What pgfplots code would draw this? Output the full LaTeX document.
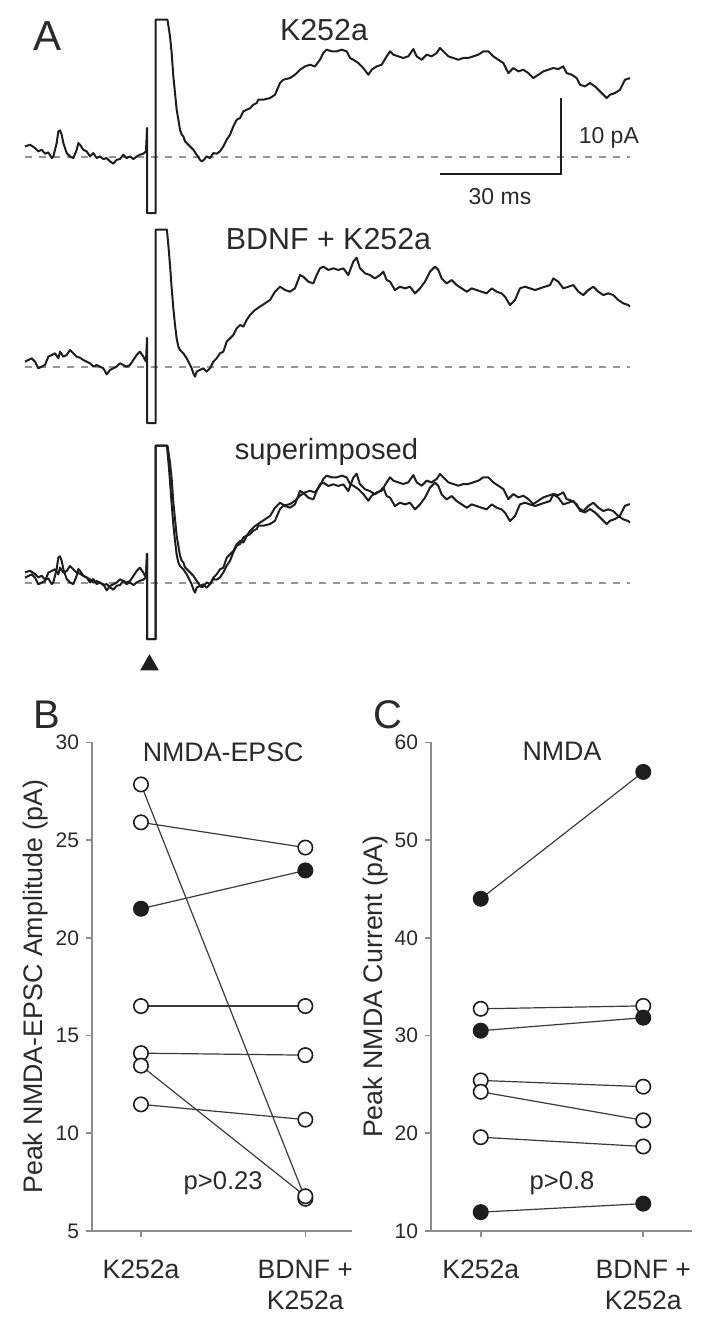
\documentclass[border=0pt]{standalone}
\usepackage{fontspec}
\setmainfont{Liberation Sans}
\usepackage{pgfplots}
\usepackage{pgfplotstable}
\pgfplotsset{compat=1.18}

\definecolor{trace}{HTML}{1E1E1E}
\definecolor{txt}{HTML}{2A2A2A}
\definecolor{axisgray}{HTML}{8C8C8C}
\definecolor{basegray}{HTML}{959595}
\definecolor{linkgray}{HTML}{3A3A3A}

% K252a trace: time (ms, 0 = stimulus), current (pA)
\pgfplotstableread{
t i
-30.35 1.36
-29.10 1.58
-27.86 1.15
-27.03 0.70
-26.20 0.92
-25.37 0.40
-24.54 0.57
-23.71 -0.18
-23.30 0.04
-22.47 1.81
-22.05 3.35
-21.64 3.48
-21.23 2.91
-20.81 1.81
-19.98 0.48
-19.15 0.04
-18.32 -0.18
-17.49 0.92
-17.08 1.81
-16.66 1.58
-15.84 0.92
-15.01 0.70
-14.18 0.04
-13.35 0.48
-12.52 -0.18
-11.69 0.04
-10.86 -0.31
-10.03 -0.18
-9.20 -0.62
-8.37 -0.92
-7.54 -0.40
-6.71 -0.31
-5.89 0.26
-5.06 -0.18
-4.23 0.04
-3.40 -0.31
-2.57 0.04
-1.74 0.26
-0.91 0.40
-0.25 0.70
0 3.80
0 -7.45
2.16 -7.45
2.16 18.10
5.10 18.10
5.72 15.89
6.14 13.70
6.55 10.61
6.97 8.41
7.38 6.21
7.80 4.89
8.21 3.57
8.63 2.91
9.04 2.69
9.45 2.03
9.87 1.81
10.70 1.36
11.53 0.92
12.36 0.26
13.19 -0.40
13.60 -0.62
14.02 -0.48
14.84 0.04
15.67 -0.18
16.50 0.48
17.33 0.40
18.16 0.70
18.99 1.36
19.82 2.25
20.65 2.91
21.48 4.01
22.31 4.89
23.14 5.11
23.97 5.99
24.80 6.21
25.62 6.40
26.45 6.87
27.28 7.09
27.70 7.53
28.94 7.53
30.60 7.75
31.84 8.19
33.08 9.73
33.91 10.17
35.57 10.39
36.81 10.83
38.06 11.49
39.30 11.93
40.55 12.15
41.79 11.93
43.03 12.81
43.86 13.70
44.69 14.14
45.94 13.92
47.18 13.92
48.42 14.14
49.67 13.92
50.50 13.04
51.32 12.81
52.57 12.37
53.81 11.71
55.06 10.83
55.89 11.49
57.13 11.93
58.38 12.15
59.62 13.26
60.45 13.92
61.28 13.48
62.52 13.26
63.76 13.04
65.01 13.26
66.25 14.22
67.08 13.26
68.32 12.81
69.57 13.48
70.81 13.26
72.06 13.70
72.88 14.36
73.71 13.92
74.96 13.26
76.20 13.04
77.44 12.81
78.69 13.04
79.93 13.04
81.18 13.26
82.42 13.48
83.66 13.92
84.91 13.92
86.15 13.26
87.40 12.81
88.64 12.37
89.88 11.05
91.13 11.71
92.37 11.27
93.61 11.49
94.86 11.05
96.10 10.39
97.35 10.83
98.59 11.27
99.83 11.49
101.08 11.71
102.32 11.58
103.56 11.93
104.39 11.05
105.64 10.83
106.88 10.39
107.71 9.51
108.95 9.29
110.20 9.73
111.44 9.29
112.27 8.85
113.51 8.19
114.34 7.75
115.17 8.19
116.42 8.41
117.66 8.85
118.90 10.17
120.15 10.39
}\traceK

% BDNF + K252a trace
\pgfplotstableread{
t i
-30.35 0.67
-29.52 0.89
-28.69 1.11
-27.86 0.67
-27.03 -0.21
-26.20 0.01
-25.37 0.23
-24.54 1.33
-23.71 1.55
-22.88 1.77
-22.05 1.11
-21.64 1.99
-20.81 1.33
-19.98 1.55
-19.15 2.21
-18.32 1.77
-17.49 1.33
-16.66 1.19
-15.84 0.89
-15.01 0.67
-14.18 0.45
-13.35 0.01
-12.52 0.23
-11.69 0.01
-10.86 -0.21
-10.03 -1.01
-9.20 -0.43
-8.37 -0.21
-7.54 0.01
-6.71 0.45
-5.89 0.23
-5.06 0.01
-4.23 0.23
-3.40 0.89
-2.57 1.55
-1.74 1.99
-0.91 1.33
-0.25 0.67
0 3.80
0 -7.45
2.16 -7.45
2.16 18.10
4.95 18.10
5.31 16.08
5.72 13.44
6.14 10.35
6.55 7.71
6.97 5.51
7.38 3.75
7.80 2.65
8.21 2.21
9.04 1.77
9.87 1.11
10.28 0.67
10.70 0.23
11.11 -0.21
11.53 -0.87
11.94 -1.31
12.36 -0.65
13.19 -0.43
14.02 -0.21
14.84 -0.65
15.67 -0.21
16.50 0.67
17.33 1.11
18.16 1.77
18.99 1.99
19.82 3.31
20.65 3.75
21.48 4.19
22.31 5.07
23.14 5.51
23.97 5.29
24.80 6.17
25.62 6.83
26.86 7.49
28.11 7.93
29.35 8.37
30.60 8.81
31.84 9.91
33.08 10.57
34.33 10.13
35.57 9.91
36.81 10.35
38.06 12.11
38.89 11.89
40.13 11.23
41.38 11.01
42.20 12.11
43.03 13.00
43.86 13.22
45.11 12.78
46.35 13.00
47.59 12.78
48.84 13.00
50.08 12.11
51.32 13.88
52.15 14.40
52.98 13.00
54.23 12.34
55.47 12.11
56.71 11.67
57.96 12.11
58.79 12.56
59.62 11.45
60.45 11.23
61.69 10.13
62.93 10.57
64.18 10.35
65.42 10.57
66.66 9.69
67.91 10.35
69.15 11.23
70.40 12.56
71.64 13.22
72.47 12.78
73.30 11.67
74.54 11.01
75.79 11.45
77.03 10.79
78.27 10.35
79.52 9.91
80.76 10.35
82.00 10.13
83.25 9.91
84.49 9.69
85.74 10.35
86.98 9.91
88.22 9.69
89.05 9.25
90.30 8.15
91.54 8.81
92.78 10.35
94.03 10.57
95.27 10.35
96.52 10.13
97.76 10.35
99.00 10.57
100.25 10.79
101.08 11.67
102.32 11.23
103.56 10.35
104.81 10.57
106.05 10.79
107.30 9.91
108.54 9.47
109.78 10.13
111.03 10.57
112.27 9.91
113.51 9.47
114.76 9.69
116.00 9.47
117.25 8.81
118.49 8.37
119.73 8.15
120.15 7.93
}\traceBK

\pgfplotsset{
  tracepanel/.style={hide axis, clip=false, anchor=south west,
    x=2.01pt, y=3.785pt, xmin=-32, xmax=122, ymin=-9, ymax=20},
  tr/.style={trace, line width=1pt, line join=round, no marks},
  baseline/.style={basegray, line width=0.85pt, dash pattern=on 3.3pt off 3.7pt, no marks},
  pairpanel/.style={scale only axis, clip=false, anchor=south west, height=244.3pt,
    axis x line=bottom, axis y line=left,
    axis line style={axisgray, line width=1pt, -},
    tick align=outside, major tick length=3pt,
    tick style={axisgray, line width=0.8pt},
    xtick={0,1}, xticklabels={K252a,{BDNF +\\K252a}},
    xticklabel style={txt, align=center, yshift=-8pt,
      font=\fontsize{13.3}{15.8}\selectfont},
    yticklabel style={txt, font=\fontsize{10.5}{12}\selectfont},
    ylabel style={txt, font=\fontsize{13.4}{16}\selectfont, anchor=center},
    /pgf/number format/assume math mode=true},
  openpt/.style={linkgray, line width=0.6pt, mark=*, mark size=3.6pt,
    mark options={draw=trace, fill=white, line width=0.8pt}},
  fullpt/.style={linkgray, line width=0.6pt, mark=*, mark size=3.6pt,
    mark options={draw=trace, fill=trace, line width=0.8pt}},
}

\begin{document}
\begin{tikzpicture}
\useasboundingbox (0,0) rectangle (354.5pt,-665pt);

% ---- A: traces ----
\begin{axis}[tracepanel, at={(9.18pt,-112.415pt)}]
\addplot[baseline] coordinates {(-30.3,0) (120.2,0)};
\addplot[tr] table[x=t, y=i] {\traceK};
\addplot[trace, line width=1pt, no marks] coordinates {(72.9,-2.29) (102.9,-2.29) (102.9,7.71)};
\end{axis}

\begin{axis}[tracepanel, at={(9.18pt,-217.415pt)}]
\addplot[baseline] coordinates {(-30.3,0) (120.2,0)};
\addplot[tr] table[x=t, y=i] {\traceBK};
\end{axis}

\begin{axis}[tracepanel, at={(9.18pt,-325.415pt)}]
\addplot[baseline] coordinates {(-30.3,0) (120.2,0)};
\addplot[tr] table[x=t, y=i] {\traceK};
\addplot[tr] table[x=t, y=i] {\traceBK};
\addplot[only marks, mark=triangle*, mark size=5pt, mark options={draw=trace, fill=trace}]
  coordinates {(0.62,-10.87)};
\end{axis}

\node[anchor=base west, txt, font=\fontsize{21}{24}\selectfont] at (13.35pt,-25pt) {A};
\node[anchor=base, txt, font=\fontsize{15.2}{18}\selectfont] at (162pt,-20pt) {K252a};
\node[anchor=base, txt, font=\fontsize{15.2}{18}\selectfont] at (164.25pt,-124.5pt) {BDNF + K252a};
\node[anchor=base, txt, font=\fontsize{14.6}{18}\selectfont] at (163.25pt,-229.65pt) {superimposed};
\node[anchor=base west, txt, font=\fontsize{11.5}{14}\selectfont] at (285.85pt,-71.65pt) {10 pA};
\node[anchor=base, txt, font=\fontsize{11.5}{14}\selectfont] at (250pt,-102pt) {30 ms};

% ---- B ----
\begin{axis}[pairpanel, at={(46pt,-615.5pt)}, width=129.85pt,
  xmin=-0.298, xmax=1.282, ymin=5, ymax=30, ytick={5,10,...,30},
  ylabel={Peak NMDA-EPSC Amplitude (pA)},
  ylabel style={at={(axis description cs:-0.2156,0.5)}}]
\addplot[openpt] coordinates {(0,27.85) (1,6.65)};
\addplot[openpt] coordinates {(0,25.91) (1,24.62)};
\addplot[fullpt] coordinates {(0,21.49) (1,23.45)};
\addplot[openpt] coordinates {(0,16.51) (1,16.51)};
\addplot[openpt] coordinates {(0,14.10) (1,14.00)};
\addplot[openpt] coordinates {(0,13.46) (1,6.78)};
\addplot[openpt] coordinates {(0,11.48) (1,10.70)};
\node[anchor=base, txt, font=\fontsize{13.4}{16}\selectfont] at (0.5,29.0) {NMDA-EPSC};
\node[anchor=base, txt, font=\fontsize{12.8}{16}\selectfont] at (0.5,7.1) {p>0.23};
\end{axis}
\node[anchor=base west, txt, font=\fontsize{20}{24}\selectfont] at (13.35pt,-364.45pt) {B};

% ---- C ----
\begin{axis}[pairpanel, at={(215.5pt,-615.5pt)}, width=130.35pt,
  xmin=-0.306, xmax=1.298, ymin=10, ymax=60, ytick={10,20,...,60},
  ylabel={Peak NMDA Current (pA)},
  ylabel style={at={(axis description cs:-0.211,0.5)}}]
\addplot[fullpt] coordinates {(0,44.0) (1,56.98)};
\addplot[openpt] coordinates {(0,32.74) (1,33.04)};
\addplot[fullpt] coordinates {(0,30.50) (1,31.83)};
\addplot[openpt] coordinates {(0,25.41) (1,24.77)};
\addplot[openpt] coordinates {(0,24.25) (1,21.33)};
\addplot[openpt] coordinates {(0,19.60) (1,18.65)};
\addplot[fullpt] coordinates {(0,11.93) (1,12.80)};
\node[anchor=base, txt, font=\fontsize{13.4}{16}\selectfont] at (0.5,58.15) {NMDA};
\node[anchor=base, txt, font=\fontsize{12.8}{16}\selectfont] at (0.5,14.22) {p>0.8};
\end{axis}
\node[anchor=base west, txt, font=\fontsize{20}{24}\selectfont] at (183.35pt,-364.45pt) {C};
\end{tikzpicture}
\end{document}
